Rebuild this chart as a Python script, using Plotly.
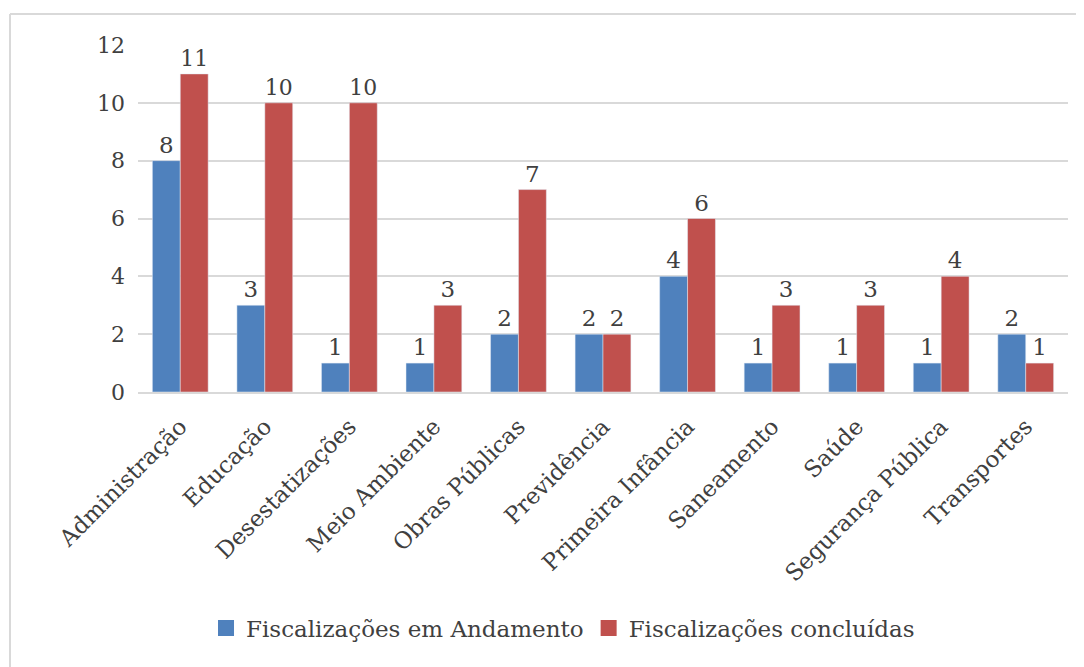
import plotly.graph_objects as go

categories = ["Administração", "Educação", "Desestatizações", "Meio Ambiente",
              "Obras Públicas", "Previdência", "Primeira Infância", "Saneamento",
              "Saúde", "Segurança Pública", "Transportes"]
em_andamento = [8, 3, 1, 1, 2, 2, 4, 1, 1, 1, 2]
concluidas = [11, 10, 10, 3, 7, 2, 6, 3, 3, 4, 1]
series_names = ["Fiscalizações em Andamento", "Fiscalizações concluídas"]
colors = ["#4F81BD", "#C0504D"]
y_ticks = [0, 2, 4, 6, 8, 10, 12]

FONT = "DejaVu Serif"
TXT = "#404040"
OFF = 8  # page body margin

fig = go.Figure()
for name, vals, col in zip(series_names, [em_andamento, concluidas], colors):
    fig.add_trace(go.Bar(x=categories, y=vals, name=name, marker_color=col,
                         text=vals, textposition="outside", showlegend=False,
                         textfont=dict(family=FONT, size=23, color=TXT), cliponaxis=False))
# legend entries with larger square swatches
for name, col in zip(series_names, colors):
    fig.add_trace(go.Scatter(x=[None], y=[None], mode="markers", name=name,
                             marker=dict(symbol="square", size=22, color=col)))

W, H = 1084 - OFF, 667 - OFF
L, R, T, B = 138 - OFF, 16, 45 - OFF, 275
pw, ph = W - L - R, H - T - B

fig.update_layout(
    width=W, height=H,
    margin=dict(l=L, r=R, t=T, b=B),
    barmode="group", bargap=0.34, bargroupgap=0,
    plot_bgcolor="white", paper_bgcolor="white",
    font=dict(family=FONT, color=TXT, size=20),
    showlegend=True,
    legend=dict(orientation="h", x=0.457, xanchor="center", y=-(628 - 392) / 347,
                yanchor="middle", font=dict(family=FONT, size=23, color=TXT),
                itemwidth=30, tracegroupgap=0),
    shapes=[
        dict(type="line", xref="paper", yref="paper",
             x0=(10 - 138) / pw, x1=(1090 - 138) / pw,
             y0=(392 - 14) / ph, y1=(392 - 14) / ph,
             line=dict(color="#d9d9d9", width=2)),
        dict(type="line", xref="paper", yref="paper",
             x0=(10 - 138) / pw, x1=(10 - 138) / pw,
             y0=(392 - 14) / ph, y1=(392 - 680) / ph,
             line=dict(color="#d9d9d9", width=2)),
    ],
)
fig.update_xaxes(tickangle=-45, tickfont=dict(family=FONT, size=23, color=TXT),
                 showline=True, linecolor="#d9d9d9", linewidth=2, ticks="",
                 ticklabelstandoff=10)
fig.update_yaxes(range=[0, 12], tickvals=y_ticks, showgrid=True, gridcolor="#d9d9d9",
                 gridwidth=1.5, zeroline=False, showline=False, ticks="",
                 tickfont=dict(family=FONT, size=22, color=TXT), ticklabelstandoff=12)

fig.write_html("out.html")
